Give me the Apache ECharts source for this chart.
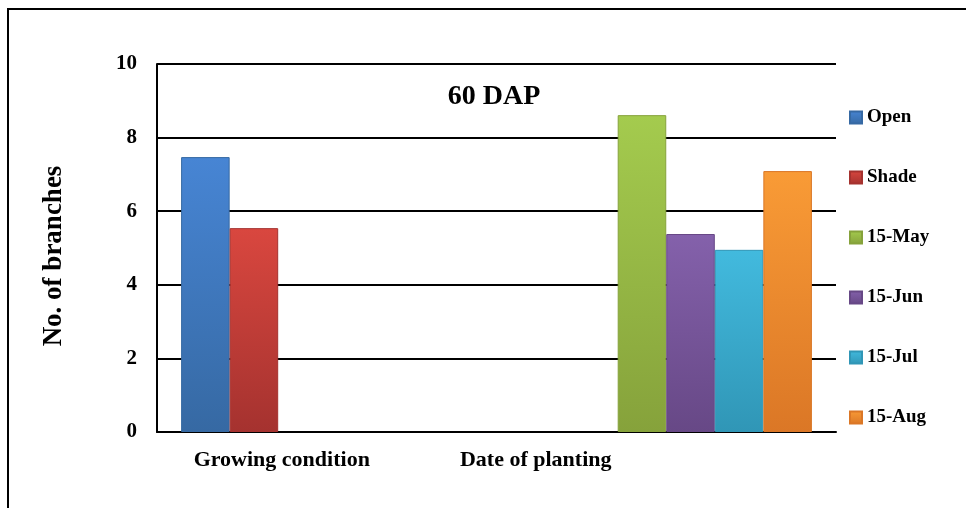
<!DOCTYPE html>
<html>
<head>
<meta charset="utf-8">
<script src="https://cdn.jsdelivr.net/npm/echarts@6/dist/echarts.min.js"></script>
<style>
  html, body { margin: 0; padding: 0; background: #fff; }
  #chart { width: 966px; height: 508px; }
</style>
</head>
<body>
<div id="chart"></div>
<script>
// categories on the x axis
var categories = ["Growing condition", "Date of planting"];
// series names and values (null where the series has no bar)
var seriesNames = ["Open", "Shade", "15-May", "15-Jun", "15-Jul", "15-Aug"];
var open = [7.47, null];
var shade = [5.54, null];
var may15 = [null, 8.61];
var jun15 = [null, 5.38];
var jul15 = [null, 4.95];
var aug15 = [null, 7.09];
var yTicks = [0, 2, 4, 6, 8, 10];

var values = [open, shade, may15, jun15, jul15, aug15];
// top / bottom colours for the shaded bars
var colors = [
    ["#4785d4", "#3669a3"],
    ["#d9473f", "#a5322f"],
    ["#a4cb4e", "#86a23b"],
    ["#8461ab", "#674886"],
    ["#42bade", "#3096b6"],
    ["#f99b36", "#db7726"]
];
var font = "Liberation Serif";

var chart = echarts.init(document.getElementById("chart"));

var series = values.map(function (v, i) {
    return {
        name: seriesNames[i],
        type: "bar",
        data: v,
        barGap: "0%",
        barCategoryGap: "14.2%",
        itemStyle: {
            color: new echarts.graphic.LinearGradient(0, 0, 0, 1, [
                { offset: 0, color: colors[i][0] },
                { offset: 1, color: colors[i][1] }
            ]),
            borderColor: colors[i][1],
            borderWidth: 1
        }
    };
});

chart.setOption({
    animation: false,
    title: {
        text: "60 DAP",
        left: 489,
        top: 78,
        textAlign: "center",
        textStyle: { fontFamily: font, fontWeight: "bold", fontSize: 28, color: "#000" }
    },
    graphic: [{
        type: "rect",
        shape: { x: 8, y: 9, width: 1000, height: 600 },
        style: { fill: "none", stroke: "#000", lineWidth: 2 }
    }],
    legend: {
        orient: "vertical",
        left: 849,
        top: 108,
        padding: 0,
        itemWidth: 12,
        itemHeight: 12,
        itemGap: 41,
        icon: "rect",
        data: seriesNames,
        textStyle: { fontFamily: font, fontWeight: "bold", fontSize: 19, color: "#000" }
    },
    grid: { left: 157, right: 130, top: 64, bottom: 76 },
    xAxis: {
        type: "category",
        data: categories,
        axisLine: { lineStyle: { color: "#000", width: 2 } },
        axisTick: { show: false },
        axisLabel: {
            margin: 17,
            formatter: function (v, idx) { return "{c" + idx + "|" + v + "}"; },
            rich: {
                c0: { fontFamily: font, fontWeight: "bold", fontSize: 22, color: "#000", padding: [0, 90, 0, 0] },
                c1: { fontFamily: font, fontWeight: "bold", fontSize: 22, color: "#000", padding: [0, 261, 0, 0] }
            }
        }
    },
    yAxis: {
        type: "value",
        min: yTicks[0],
        max: yTicks[yTicks.length - 1],
        interval: 2,
        name: "No. of branches",
        nameLocation: "middle",
        nameGap: 89,
        nameTextStyle: { fontFamily: font, fontWeight: "bold", fontSize: 27, color: "#000", padding: [0, 16, 0, 0] },
        axisLine: { show: true, lineStyle: { color: "#000", width: 2 } },
        axisTick: { show: false },
        axisLabel: { margin: 20, fontFamily: font, fontWeight: "bold", fontSize: 21, color: "#000" },
        splitLine: { lineStyle: { color: "#000", width: 2 } }
    },
    series: series
});
</script>
</body>
</html>
